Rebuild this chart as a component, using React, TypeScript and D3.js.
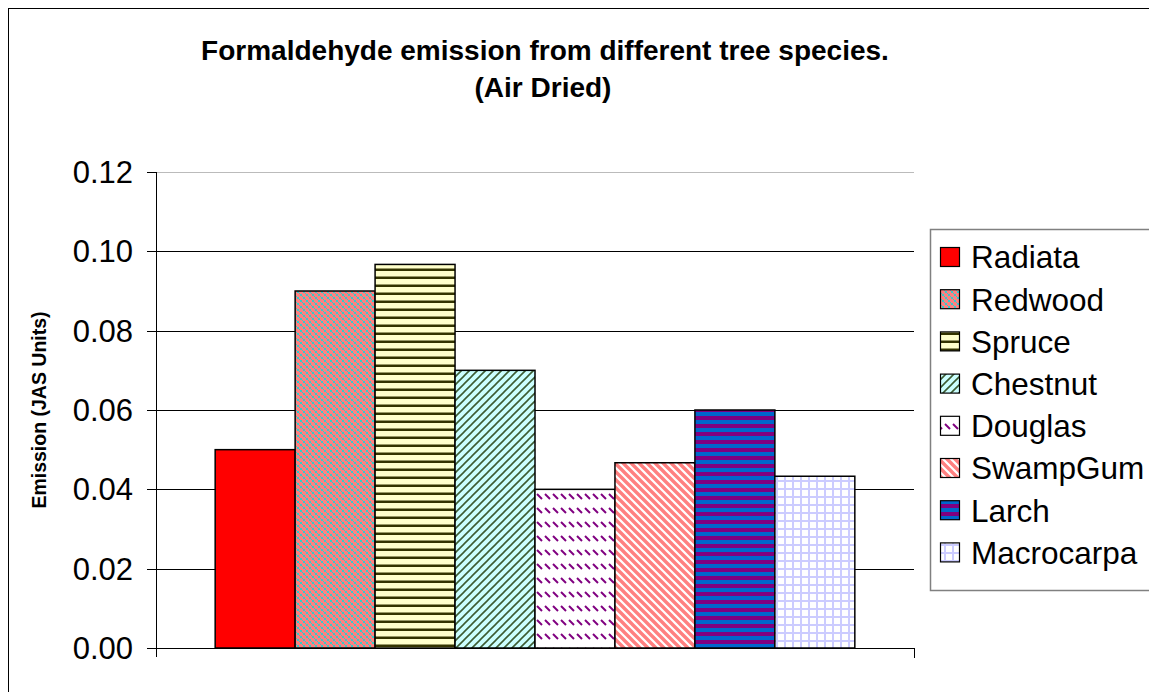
import React, { useEffect, useRef } from 'react';
import * as d3 from 'd3';

// chart data
const species = ['Radiata', 'Redwood', 'Spruce', 'Chestnut', 'Douglas', 'SwampGum', 'Larch', 'Macrocarpa'];
const emission = [0.05, 0.09, 0.0967, 0.07, 0.04, 0.0467, 0.06, 0.0433];
const yTicks = [0, 0.02, 0.04, 0.06, 0.08, 0.1, 0.12];
const titleLines = ['Formaldehyde emission from different tree species.', '(Air Dried)'];
const yLabel = 'Emission (JAS Units)';

const FONT = '"Liberation Sans", Arial, sans-serif';
const W = 1149;
const H = 692;

const App = () => {
  const svgRef = useRef<SVGSVGElement | null>(null);

  useEffect(() => {
    if (!svgRef.current) return;
    const svg = d3.select(svgRef.current);
    svg.selectAll('*').remove();

    const plot = { left: 156, right: 914, top: 172, bottom: 648 };

    const x = d3.scaleBand<string>()
      .domain(species)
      .range([plot.left, plot.right])
      .paddingInner(0)
      .paddingOuter(0.74);

    const y = d3.scaleLinear()
      .domain([0, 0.12])
      .range([plot.bottom, plot.top]);

    // fill patterns, one per species
    const defs = svg.append('defs');
    const pat = (id: string, w: number, h: number) =>
      defs.append('pattern')
        .attr('id', id)
        .attr('patternUnits', 'userSpaceOnUse')
        .attr('width', w)
        .attr('height', h)
        .attr('shape-rendering', 'crispEdges');

    // Redwood: salmon with cyan lattice
    const pRed = pat('p-redwood', 6, 6);
    pRed.append('rect').attr('width', 6).attr('height', 6).attr('fill', '#ff8080');
    [[0, 0, 2, 2], [3, 3, 2, 2], [2, 2, 1, 1], [5, 5, 1, 1]].forEach(([rx, ry, rw, rh]) => {
      pRed.append('rect')
        .attr('x', rx).attr('y', ry).attr('width', rw).attr('height', rh)
        .attr('fill', '#33cccc');
    });

    // Spruce: pale yellow with dark horizontal lines
    const pSpr = pat('p-spruce', 8, 8);
    pSpr.append('rect').attr('width', 8).attr('height', 8).attr('fill', '#ffffcc');
    pSpr.append('rect').attr('y', 4).attr('width', 8).attr('height', 1).attr('fill', '#999966');
    pSpr.append('rect').attr('y', 5).attr('width', 8).attr('height', 2).attr('fill', '#333300');

    // Chestnut: pale cyan with upward diagonals
    const pChe = pat('p-chestnut', 8, 8);
    pChe.append('rect').attr('width', 8).attr('height', 8).attr('fill', '#ccffff');
    pChe.append('path')
      .attr('d', 'M0,8 L8,0 M-2,2 L2,-2 M6,10 L10,6')
      .attr('shape-rendering', 'auto')
      .attr('stroke', '#3d5c33').attr('stroke-width', 1.6);

    // Douglas: white with purple diagonal dashes
    const pDou = pat('p-douglas', 8, 14);
    pDou.append('rect').attr('width', 8).attr('height', 14).attr('fill', '#ffffff');
    pDou.append('path')
      .attr('d', 'M1,4 L6,9')
      .attr('shape-rendering', 'auto')
      .attr('stroke', '#800080').attr('stroke-width', 2);

    // SwampGum: white with salmon downward diagonals
    const pSwa = pat('p-swampgum', 8, 8);
    pSwa.append('rect').attr('width', 8).attr('height', 8).attr('fill', '#ffffff');
    pSwa.append('path')
      .attr('d', 'M-2,6 L2,10 M0,0 L8,8 M6,-2 L10,2')
      .attr('shape-rendering', 'auto')
      .attr('stroke', '#ff8080').attr('stroke-width', 3.4);

    // Larch: purple / blue horizontal bands
    const pLar = pat('p-larch', 8, 8);
    pLar.append('rect').attr('width', 8).attr('height', 4).attr('fill', '#800080');
    pLar.append('rect').attr('y', 4).attr('width', 8).attr('height', 4).attr('fill', '#0066cc');

    // Macrocarpa: white with lavender grid
    const pMac = pat('p-macrocarpa', 8, 8);
    pMac.append('rect').attr('width', 8).attr('height', 8).attr('fill', '#ffffff');
    pMac.append('rect').attr('width', 8).attr('height', 2).attr('fill', '#ccccff');
    pMac.append('rect').attr('width', 2).attr('height', 8).attr('fill', '#ccccff');

    const fills: Record<string, string> = {
      Radiata: '#ff0000',
      Redwood: 'url(#p-redwood)',
      Spruce: 'url(#p-spruce)',
      Chestnut: 'url(#p-chestnut)',
      Douglas: 'url(#p-douglas)',
      SwampGum: 'url(#p-swampgum)',
      Larch: 'url(#p-larch)',
      Macrocarpa: 'url(#p-macrocarpa)',
    };

    // white background + outer chart border
    svg.append('rect').attr('width', W).attr('height', H).attr('fill', '#fff');
    svg.append('rect')
      .attr('x', 8.5).attr('y', 8.5)
      .attr('width', 1200).attr('height', 800)
      .attr('fill', 'none').attr('stroke', '#000').attr('stroke-width', 1);

    // title
    svg.append('text')
      .attr('x', 545)
      .attr('y', 60)
      .attr('text-anchor', 'middle')
      .attr('font-family', FONT)
      .attr('font-weight', 'bold')
      .attr('font-size', 28)
      .text(titleLines[0]);
    svg.append('text')
      .attr('x', 543)
      .attr('y', 97)
      .attr('text-anchor', 'middle')
      .attr('font-family', FONT)
      .attr('font-weight', 'bold')
      .attr('font-size', 28)
      .text(titleLines[1]);

    // gridlines
    svg.append('g')
      .selectAll('line')
      .data(yTicks.filter(t => t > 0))
      .join('line')
      .attr('x1', plot.left)
      .attr('x2', plot.right)
      .attr('y1', d => Math.round(y(d)) + 0.5)
      .attr('y2', d => Math.round(y(d)) + 0.5)
      .attr('stroke', d => (d === 0.12 ? '#bbbbbb' : '#000'))
      .attr('stroke-width', 1);

    // bars
    svg.append('g')
      .selectAll('rect')
      .data(species)
      .join('rect')
      .attr('x', d => x(d) as number)
      .attr('y', (d, i) => y(emission[i]))
      .attr('width', x.bandwidth())
      .attr('height', (d, i) => y(0) - y(emission[i]))
      .attr('fill', d => fills[d])
      .attr('stroke', '#000')
      .attr('stroke-width', 1.5);

    // y axis line + ticks
    svg.append('line')
      .attr('x1', plot.left + 0.5).attr('x2', plot.left + 0.5)
      .attr('y1', plot.top).attr('y2', plot.bottom + 9)
      .attr('stroke', '#000');
    svg.append('g')
      .selectAll('line')
      .data(yTicks)
      .join('line')
      .attr('x1', plot.left - 9)
      .attr('x2', plot.left)
      .attr('y1', d => Math.round(y(d)) + 0.5)
      .attr('y2', d => Math.round(y(d)) + 0.5)
      .attr('stroke', '#000');
    svg.append('g')
      .selectAll('text')
      .data(yTicks)
      .join('text')
      .attr('x', 133)
      .attr('y', d => y(d))
      .attr('dy', '0.36em')
      .attr('text-anchor', 'end')
      .attr('font-family', FONT)
      .attr('font-size', 31)
      .text(d => d3.format('.2f')(d));

    // x axis line + end tick
    svg.append('line')
      .attr('x1', plot.left).attr('x2', plot.right + 0.5)
      .attr('y1', plot.bottom + 0.5).attr('y2', plot.bottom + 0.5)
      .attr('stroke', '#000');
    svg.append('line')
      .attr('x1', plot.right + 0.5).attr('x2', plot.right + 0.5)
      .attr('y1', plot.bottom).attr('y2', plot.bottom + 10)
      .attr('stroke', '#000');

    // y axis title
    svg.append('text')
      .attr('transform', `translate(46, ${(plot.top + plot.bottom) / 2}) rotate(-90)`)
      .attr('text-anchor', 'middle')
      .attr('font-family', FONT)
      .attr('font-weight', 'bold')
      .attr('font-size', 19.5)
      .text(yLabel);

    // legend
    const lg = svg.append('g');
    lg.append('rect')
      .attr('x', 930.5).attr('y', 229.5)
      .attr('width', 260).attr('height', 361)
      .attr('fill', '#fff')
      .attr('stroke', '#808080').attr('stroke-width', 1.5);
    species.forEach((s, i) => {
      const cy = 257 + i * 42.2;
      lg.append('rect')
        .attr('x', 940.5).attr('y', cy - 9.5)
        .attr('width', 19).attr('height', 19)
        .attr('fill', fills[s])
        .attr('stroke', '#000').attr('stroke-width', 1.2);
      lg.append('text')
        .attr('x', 971)
        .attr('y', cy)
        .attr('dy', '0.36em')
        .attr('font-family', FONT)
        .attr('font-size', 31.5)
        .text(s);
    });
  }, []);

  return (
    <svg
      ref={svgRef}
      width={W}
      height={H}
      style={{ position: 'absolute', left: 0, top: 0, display: 'block' }}
    ></svg>
  );
};

export default App;
